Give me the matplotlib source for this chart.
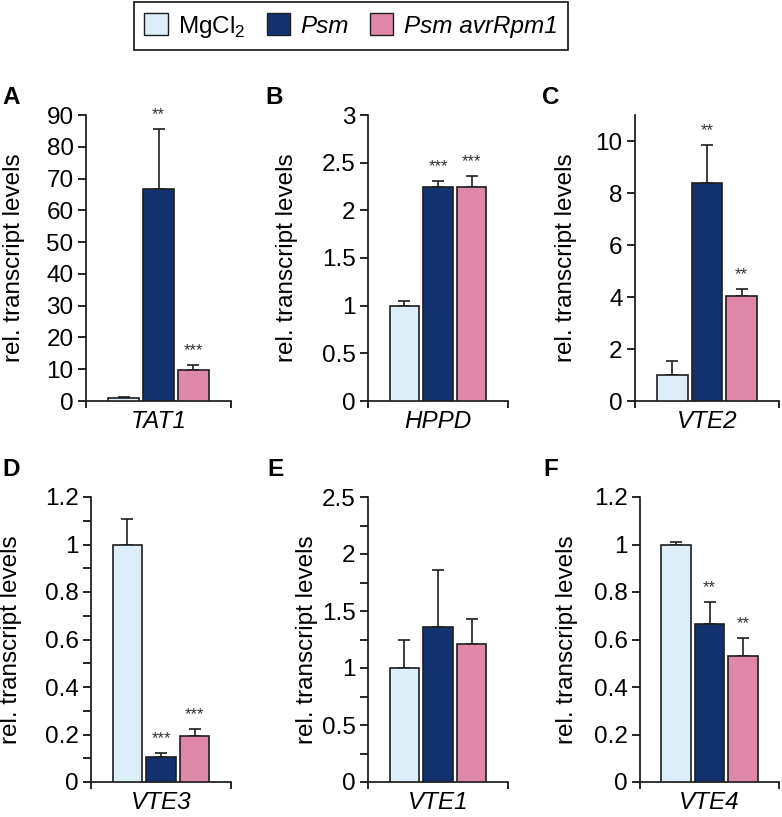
"""Relative transcript levels of tocopherol pathway genes after Psm infection."""

import matplotlib
matplotlib.use("Agg")
import matplotlib.pyplot as plt
from matplotlib.patches import Patch
from matplotlib.ticker import MultipleLocator, FormatStrFormatter
import numpy as np

plt.rcParams['font.family'] = ['Liberation Sans', 'DejaVu Sans']
plt.rcParams['mathtext.fontset'] = 'custom'
plt.rcParams['mathtext.rm'] = 'Liberation Sans'

# Treatments / colours
TREATMENTS = ['MgCl$_2$', 'Psm', 'Psm avrRpm1']
COLORS = ['#ddeef9', '#13306f', '#de87a8']
EDGE = '#1e1e1e'

PANELS = ['A', 'B', 'C', 'D', 'E', 'F']
GENES = ['TAT1', 'HPPD', 'VTE2', 'VTE3', 'VTE1', 'VTE4']

# Values (mean, upper error, significance)
tat1_mean = [1.05, 66.7, 9.7]
tat1_err = [0.25, 19.0, 1.7]
tat1_sig = ['', '**', '***']

hppd_mean = [1.0, 2.25, 2.25]
hppd_err = [0.05, 0.06, 0.11]
hppd_sig = ['', '***', '***']

vte2_mean = [1.0, 8.4, 4.03]
vte2_err = [0.55, 1.45, 0.29]
vte2_sig = ['', '**', '**']

vte3_mean = [1.0, 0.104, 0.192]
vte3_err = [0.108, 0.02, 0.033]
vte3_sig = ['', '***', '***']

vte1_mean = [1.0, 1.36, 1.21]
vte1_err = [0.25, 0.50, 0.22]
vte1_sig = ['', '', '']

vte4_mean = [1.0, 0.667, 0.529]
vte4_err = [0.01, 0.091, 0.077]
vte4_sig = ['', '**', '**']

MEANS = [tat1_mean, hppd_mean, vte2_mean, vte3_mean, vte1_mean, vte4_mean]
ERRS = [tat1_err, hppd_err, vte2_err, vte3_err, vte1_err, vte4_err]
SIGS = [tat1_sig, hppd_sig, vte2_sig, vte3_sig, vte1_sig, vte4_sig]

# Axis ranges: ymax, major step, minor step
YMAX = [90, 3, 11, 1.2, 2.5, 1.2]
YSTEP = [10, 0.5, 2, 0.2, 0.5, 0.2]
YMINOR = [None, None, None, 0.1, 0.25, None]

# Layout in pixels of a 782x817 figure
W, H = 782, 817
AX_PX = [(86, 231, 115, 401), (368, 508, 115, 401), (635, 779, 115, 401),
         (91, 231, 497, 782), (368, 508, 497, 782), (640, 779, 497, 782)]
LETTER_PX = [(2, 86), (265, 86), (542, 86), (2, 458), (267, 458), (543, 458)]
YLABEL_X = [-0.42, -0.50, -0.40, -0.49, -0.36, -0.445]

FS = 17.5


def draw_panel(ax, i):
    x = np.arange(3) - 1.0
    means = np.array(MEANS[i])
    errs = np.array(ERRS[i])
    ax.bar(x, means, width=0.88, color=COLORS, edgecolor=EDGE, linewidth=1.2, zorder=3)
    ax.errorbar(x, means, yerr=[np.zeros(3), errs], fmt='none', ecolor=EDGE,
                elinewidth=1.2, capsize=4.5, capthick=1.2, zorder=2)
    for xi, m, e, s in zip(x, means, errs, SIGS[i]):
        if s:
            ax.annotate(s, (xi, m + e), xytext=(0, 7), textcoords='offset points',
                        ha='center', va='baseline', fontsize=12, color='#333333')

    ax.set_xlim(-2.08, 2.08)
    ax.set_ylim(0, YMAX[i])
    ax.yaxis.set_major_locator(MultipleLocator(YSTEP[i]))
    if YMINOR[i]:
        ax.yaxis.set_minor_locator(MultipleLocator(YMINOR[i]))
    ax.yaxis.set_major_formatter(FormatStrFormatter('%g'))
    ax.set_xticks([-2.08, 2.08])
    ax.set_xticklabels([])

    for side in ['top', 'right']:
        ax.spines[side].set_visible(False)
    for side in ['left', 'bottom']:
        ax.spines[side].set_linewidth(1.2)
        ax.spines[side].set_color('#111111')
    ax.tick_params(axis='y', which='both', direction='out', length=6, width=1.2,
                   labelsize=FS, pad=3)
    ax.tick_params(axis='x', direction='out', length=5, width=1.2)

    ax.set_ylabel('rel. transcript levels', fontsize=FS)
    ax.yaxis.set_label_coords(YLABEL_X[i], 0.5)
    ax.set_xlabel(GENES[i], fontsize=FS, style='italic', va='top')
    ax.xaxis.set_label_coords(0.5, -0.03)


def main():
    fig = plt.figure(figsize=(W / 100, H / 100), dpi=100)

    for i in range(6):
        x0, x1, y0, y1 = AX_PX[i]
        ax = fig.add_axes([x0 / W, 1 - y1 / H, (x1 - x0) / W, (y1 - y0) / H])
        draw_panel(ax, i)
        lx, ly = LETTER_PX[i]
        fig.text(lx / W, 1 - ly / H, PANELS[i], fontsize=FS, fontweight='bold',
                 ha='left', va='top')

    handles = [Patch(facecolor=c, edgecolor=EDGE, linewidth=1.0) for c in COLORS]
    leg = fig.legend(handles, TREATMENTS, loc='upper center', ncol=3,
                     bbox_to_anchor=(351 / W, 1 - 2 / H), fontsize=FS,
                     frameon=True, fancybox=False, framealpha=1,
                     edgecolor='#111111', handlelength=0.95, handleheight=1.05,
                     handletextpad=0.45, columnspacing=0.85, borderpad=0.45,
                     borderaxespad=0)
    leg.get_frame().set_linewidth(1.2)
    for t in leg.get_texts()[1:]:
        t.set_fontstyle('italic')

    fig.savefig('out.png', dpi=100)


if __name__ == "__main__":
    main()
